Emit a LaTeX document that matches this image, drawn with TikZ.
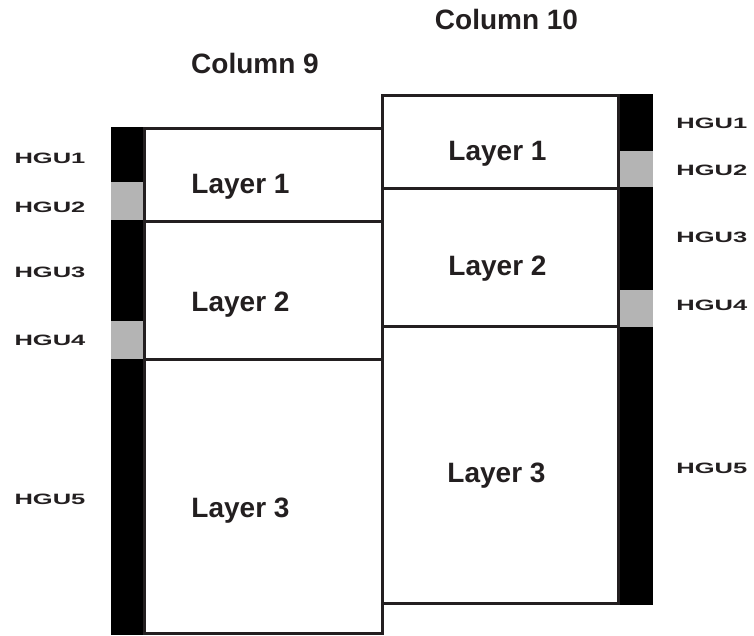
\documentclass[tikz,border=0pt]{standalone}
\usepackage{fontspec}
\setmainfont{Liberation Sans}
\usetikzlibrary{positioning}
\definecolor{ink}{HTML}{231F20}
\definecolor{gapgray}{HTML}{B4B4B4}
\tikzstyle{bigtext} = [font=\bfseries\fontsize{28}{32}\selectfont, text=ink, anchor=base, inner sep=0pt]
\tikzstyle{hgutext} = [font=\bfseries\fontsize{15}{18}\selectfont, text=ink, xscale=1.7, anchor=base, inner sep=0pt]
\tikzstyle{wall} = [draw=ink, line width=3pt]

\begin{document}
\begin{tikzpicture}[x=1pt, y=-1pt]
    \useasboundingbox (0,0) rectangle (754,635);

    % unit bars
    \fill[black] (111,127) rectangle (144,635);
    \fill[gapgray] (111,182) rectangle (144,220);
    \fill[gapgray] (111,321) rectangle (144,359);
    \fill[black] (618,94) rectangle (653,605);
    \fill[gapgray] (618,151) rectangle (653,187);
    \fill[gapgray] (618,290) rectangle (653,327);

    % column 9
    \draw[wall] (144,128) rectangle (382,633);
    \draw[wall] (144,221) -- (382,221);
    \draw[wall] (144,359) -- (382,359);
    % column 10
    \draw[wall, fill=white] (382,95) rectangle (618,603);
    \draw[wall] (382,188) -- (618,188);
    \draw[wall] (382,326) -- (618,326);

    \node (col9) [bigtext] at (255,73) {Column 9};
    \node (col10) [bigtext] at (506.5,29) {Column 10};

    \node (c9l1) [bigtext] at (240.5,193) {Layer 1};
    \node (c9l2) [bigtext] at (240.5,311) {Layer 2};
    \node (c9l3) [bigtext] at (240.5,517) {Layer 3};
    \node (c10l1) [bigtext] at (497.5,160) {Layer 1};
    \node (c10l2) [bigtext] at (497.5,275) {Layer 2};
    \node (c10l3) [bigtext] at (496.5,482) {Layer 3};

    \node (lh1) [hgutext] at (50,163.5) {HGU1};
    \node (lh2) [hgutext] at (50,212.5) {HGU2};
    \node (lh3) [hgutext] at (50,277) {HGU3};
    \node (lh4) [hgutext] at (50,345) {HGU4};
    \node (lh5) [hgutext] at (50,504) {HGU5};

    \node (rh1) [hgutext, anchor=base west] at (676,128) {HGU1};
    \node (rh2) [hgutext, anchor=base west] at (676,175) {HGU2};
    \node (rh3) [hgutext, anchor=base west] at (676,242) {HGU3};
    \node (rh4) [hgutext, anchor=base west] at (676,310) {HGU4};
    \node (rh5) [hgutext, anchor=base west] at (676,473) {HGU5};
\end{tikzpicture}
\end{document}
